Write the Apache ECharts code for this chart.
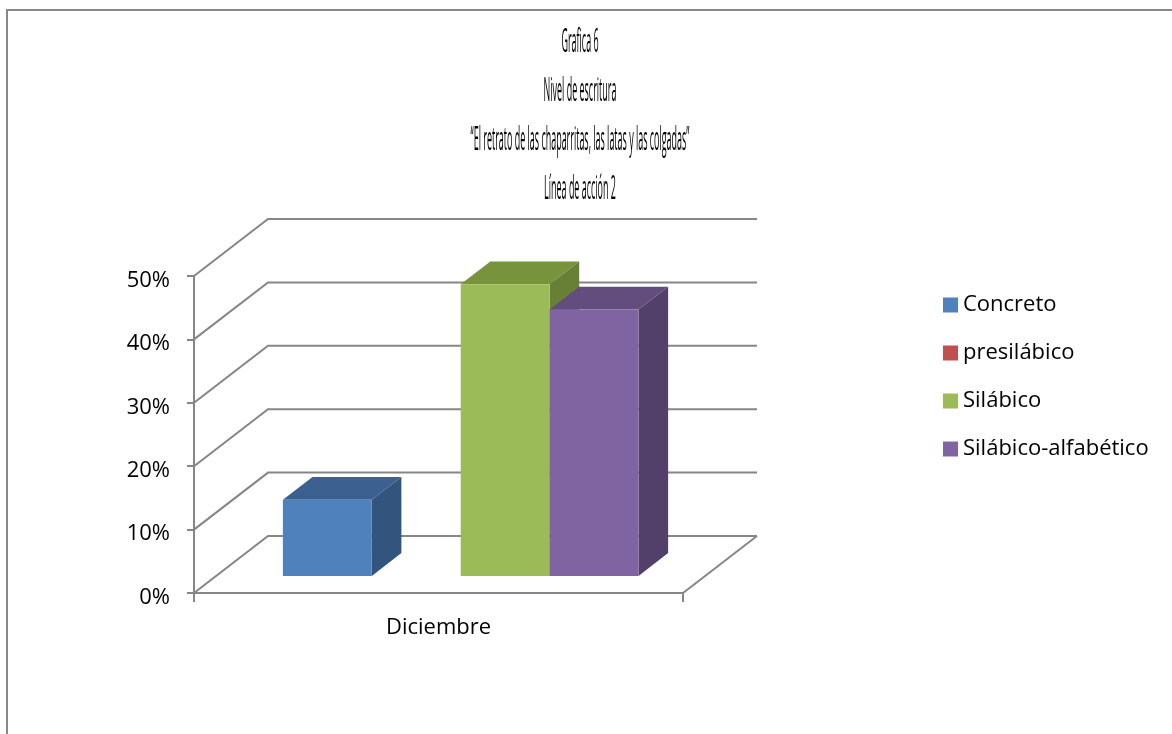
<!DOCTYPE html>
<html>
<head>
<meta charset="utf-8">
<script src="https://cdn.jsdelivr.net/npm/echarts@6/dist/echarts.min.js"></script>
<style>
html,body{margin:0;padding:0;background:#fff;}
#chart{width:1172px;height:734px;}
</style>
</head>
<body>
<div id="chart"></div>
<script>
// ---- data ----
const categories = ['Diciembre'];
const seriesNames = ['Concreto', 'presilábico', 'Silábico', 'Silábico-alfabético'];
const concreto = [0.12];
const presilabico = [0];
const silabico = [0.46];
const silabicoAlfabetico = [0.42];
const yTicks = [0, 0.1, 0.2, 0.3, 0.4, 0.5];
const titleLines = ['Grafica 6', 'Nivel de escritura', '\u201CEl retrato de las chaparritas, las latas y las colgadas\u201D', 'Línea de acción 2'];

// ---- styling ----
const frontColors = ['#4F81BD', '#C0504D', '#9BBB59', '#8064A2'];
const topColors   = ['#3C6190', '#943D3A', '#77933C', '#634D7E'];
const sideColors  = ['#33547D', '#7F3532', '#687F36', '#52406A'];
const DX = 74, DY = -57;          // depth offset of the back wall
const D_FRONT = 0.30, D_BACK = 0.70; // bar depth position (fraction)
const GAP = 1.5;                   // gap width (bars)
const GRID_COLOR = '#868686';
const LW = 2;
const FONT = 'Open Sans';

const allValues = [concreto, presilabico, silabico, silabicoAlfabetico];
const N = allValues.length;

function barRenderer(si) {
  return function (params, api) {
    const v = api.value(1);
    if (!v) return;
    const base = api.coord([api.value(0), 0]);
    const top = api.coord([api.value(0), v]);
    const band = api.size([1, 0])[0];
    const bw = band / (N + GAP);
    const x0 = base[0] - N * bw / 2 + si * bw;
    const x1 = x0 + bw;
    const fx = DX * D_FRONT, fy = DY * D_FRONT;
    const bx = DX * D_BACK, by = DY * D_BACK;
    const yb = base[1], yt = top[1];
    return {
      type: 'group',
      children: [
        { type: 'polygon', shape: { points: [[x0 + fx, yt + fy], [x1 + fx, yt + fy], [x1 + bx, yt + by], [x0 + bx, yt + by]] },
          style: { fill: topColors[si] } },
        { type: 'polygon', shape: { points: [[x1 + fx, yt + fy], [x1 + bx, yt + by], [x1 + bx, yb + by], [x1 + fx, yb + fy]] },
          style: { fill: sideColors[si] } },
        { type: 'rect', shape: { x: x0 + fx, y: yt + fy, width: bw, height: yb - yt },
          style: { fill: frontColors[si] } }
      ]
    };
  };
}

function gridRenderer(params, api) {
  const t = api.value(1);
  const p = api.coord([0, t]);
  const half = api.size([1, 0])[0] / 2;
  const xl = p[0] - half, xr = p[0] + half, y = p[1];
  const children = [
    { type: 'polyline', shape: { points: [[xl, y], [xl + DX, y + DY], [xr + DX, y + DY]] },
      style: { stroke: GRID_COLOR, lineWidth: LW, fill: null } }
  ];
  if (t === 0) {
    children.push({ type: 'line', shape: { x1: xr, y1: y, x2: xr + DX, y2: y + DY },
      style: { stroke: GRID_COLOR, lineWidth: LW } });
  }
  return { type: 'group', children };
}

const series = [{
  type: 'custom',
  name: '_grid',
  silent: true,
  z: 1,
  clip: false,
  renderItem: gridRenderer,
  data: yTicks.map(t => [0, t]),
  encode: { x: 0, y: 1 },
  tooltip: { show: false }
}];
allValues.forEach((vals, si) => {
  series.push({
    type: 'custom',
    name: seriesNames[si],
    z: 2,
    clip: false,
    itemStyle: { color: frontColors[si] },
    renderItem: barRenderer(si),
    data: vals.map((v, ci) => [ci, v]),
    encode: { x: 0, y: 1 }
  });
});

const titleGraphics = titleLines.map((txt, i) => ({
  type: 'text',
  x: 580,
  y: 42 + i * 49.2,
  scaleX: 0.56,
  scaleY: 2.1,
  style: {
    text: txt,
    font: '16px "' + FONT + '"',
    fill: '#000',
    align: 'center',
    verticalAlign: 'middle'
  }
}));

const chart = echarts.init(document.getElementById('chart'), null, { renderer: 'canvas' });
chart.setOption({
  animation: false,
  backgroundColor: '#ffffff',
  textStyle: { fontFamily: FONT },
  grid: { left: 194, top: 276, width: 489, height: 317, containLabel: false },
  xAxis: {
    type: 'category',
    data: categories,
    boundaryGap: true,
    axisLine: { show: true, lineStyle: { color: GRID_COLOR, width: LW } },
    axisTick: { show: true, length: 9, lineStyle: { color: GRID_COLOR, width: LW } },
    axisLabel: { color: '#000', fontSize: 22, margin: 24, fontFamily: FONT },
    splitLine: { show: false }
  },
  yAxis: {
    type: 'value',
    min: 0,
    max: 0.5,
    interval: 0.1,
    axisLine: { show: true, lineStyle: { color: GRID_COLOR, width: LW } },
    axisTick: { show: true, length: 7, lineStyle: { color: GRID_COLOR, width: LW } },
    axisLabel: { color: '#000', fontSize: 22, margin: 24, fontFamily: FONT,
      formatter: v => '{p|' + Math.round(v * 100) + '%}',
      rich: { p: { fontSize: 22, fontFamily: FONT, color: '#000', padding: [9, 0, 0, 0] } } },
    splitLine: { show: false }
  },
  legend: {
    orient: 'vertical',
    left: 938,
    top: 289,
    icon: 'rect',
    itemWidth: 15,
    itemHeight: 15,
    itemGap: 26,
    data: seriesNames,
    textStyle: { color: '#000', fontSize: 22, lineHeight: 22, fontFamily: FONT },
    selectedMode: false
  },
  graphic: [
    { type: 'rect', shape: { x: 7, y: 10, width: 1300, height: 900 },
      style: { fill: null, stroke: '#888888', lineWidth: 2 }, silent: true, z: 0 },
    ...titleGraphics
  ],
  series
});
</script>
</body>
</html>
